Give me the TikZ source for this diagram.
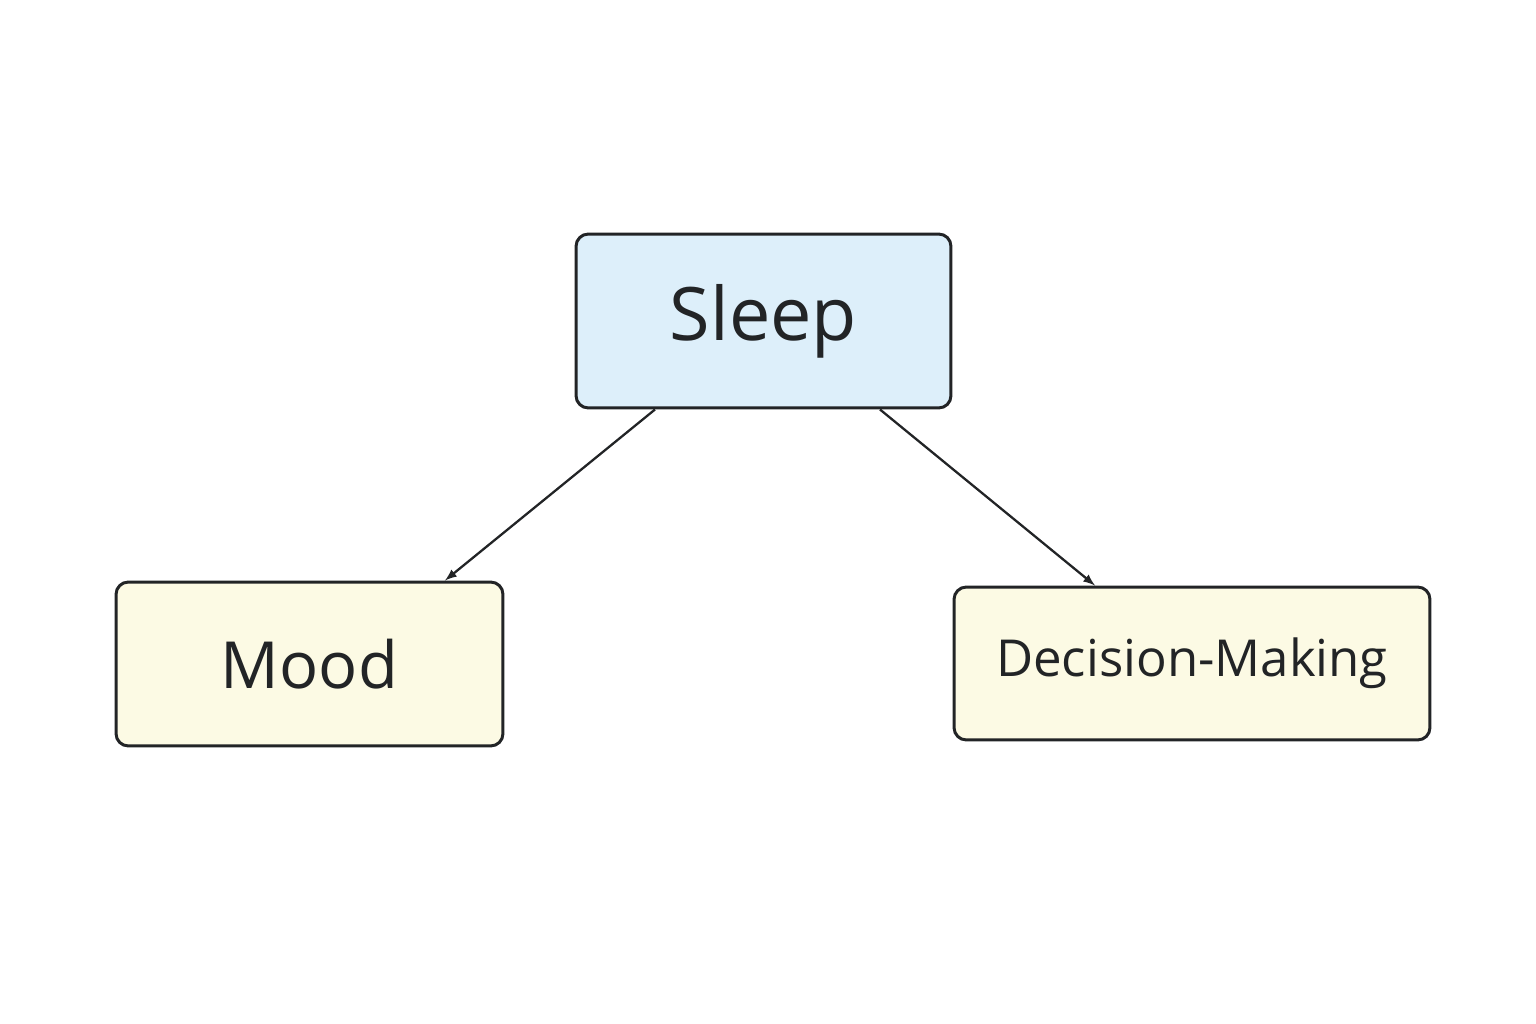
\documentclass[tikz,border=0pt]{standalone}
\usepackage{fontspec}
\setmainfont{Open Sans}
\usetikzlibrary{positioning}
\definecolor{inkdark}{HTML}{222426}
\definecolor{sleepblue}{HTML}{DDEFFA}
\definecolor{paleyellow}{HTML}{FCFAE4}
\tikzset{
  box/.style={draw=inkdark, line width=1.7pt, rounded corners=7pt, text=inkdark, font=\fontsize{#1}{#1}\selectfont},
  link/.style={->, >=latex, line width=1.3pt, draw=inkdark}
}
\begin{document}
\begin{tikzpicture}[x=0.02cm, y=-0.02cm]
\useasboundingbox (0,0) rectangle (1536,1024);
\node [box=42, fill=sleepblue, minimum width=7.5cm, minimum height=3.48cm] (sleep) at (763.5,321) {Sleep};
\node [box=37, fill=paleyellow, minimum width=7.74cm, minimum height=3.28cm] (mood) at (309.5,664) {Mood};
\node [box=29, fill=paleyellow, minimum width=9.52cm, minimum height=3.06cm] (decision) at (1192,663.5) {Decision-Making};
\draw [link] ([xshift=-2.17cm]sleep.south) -- ([xshift=2.71cm]mood.north);
\draw [link] ([xshift=2.33cm]sleep.south) -- ([xshift=-1.94cm]decision.north);
\end{tikzpicture}
\end{document}
